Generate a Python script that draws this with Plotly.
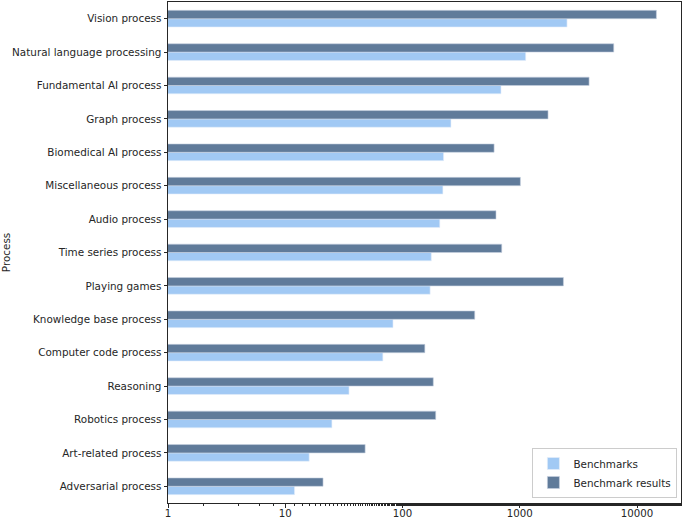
import plotly.graph_objects as go

categories = ["Adversarial process", "Art-related process", "Robotics process", "Reasoning",
              "Computer code process", "Knowledge base process", "Playing games",
              "Time series process", "Audio process", "Miscellaneous process",
              "Biomedical AI process", "Graph process", "Fundamental AI process",
              "Natural language processing", "Vision process"]
benchmarks = [12, 16, 25, 35, 68, 83, 172, 176, 208, 221, 224, 259, 692, 1124, 2530]
benchmark_results = [21, 48, 192, 183, 155, 413, 2356, 702, 627, 1012, 604, 1742, 3900, 6330, 14630]
tick_vals = [1, 10, 100, 1000, 10000]
tick_text = ["1", "10", "100", "1000", "10000"]

light = "#a1c9f4"
dark = "#607b9a"

fig = go.Figure()
fig.add_trace(go.Bar(y=categories, x=benchmarks, orientation="h", name="Benchmarks",
                     marker=dict(color=light, line=dict(color="#e6eefa", width=0.6))))
fig.add_trace(go.Bar(y=categories, x=benchmark_results, orientation="h", name="Benchmark results",
                     marker=dict(color=dark, line=dict(color="#c8d2e0", width=0.6))))

fig.update_layout(
    width=685, height=519,
    margin=dict(l=168, r=4, t=2, b=16),
    barmode="group", bargap=0.5, bargroupgap=0,
    plot_bgcolor="white", paper_bgcolor="white",
    font=dict(family="DejaVu Sans", size=10.4, color="#262626"),
    legend=dict(x=0.993, y=0.01, xanchor="right", yanchor="bottom", traceorder="normal",
                bordercolor="#cccccc", borderwidth=1, bgcolor="rgba(255,255,255,0.8)",
                font=dict(size=10.4), itemwidth=30, tracegroupgap=0),
    showlegend=True,
)
fig.update_xaxes(type="log", range=[0, 4.375], tickvals=tick_vals, ticktext=tick_text,
                 automargin=False,
                 showline=True, linecolor="#262626", linewidth=1, mirror=True,
                 ticks="outside", ticklen=3.5, tickcolor="#262626", showgrid=False, zeroline=False,
                 tickfont=dict(size=10.2), ticklabelstandoff=-3,
                 minor=dict(ticks="outside", ticklen=2, tickcolor="#262626", showgrid=False))
fig.update_yaxes(type="category", categoryorder="array", categoryarray=categories,
                 automargin=False,
                 range=[-0.5, 14.5], showline=True, linecolor="#262626", linewidth=1, mirror=True,
                 ticks="outside", ticklen=3.5, tickcolor="#262626", showgrid=False,
                 tickfont=dict(size=10.4),
                 title=dict(text="Process", font=dict(size=10.4)))

fig.write_html("out.html", config={"displayModeBar": False},
               post_script="document.body.style.margin='0';document.body.style.overflow='hidden';")
